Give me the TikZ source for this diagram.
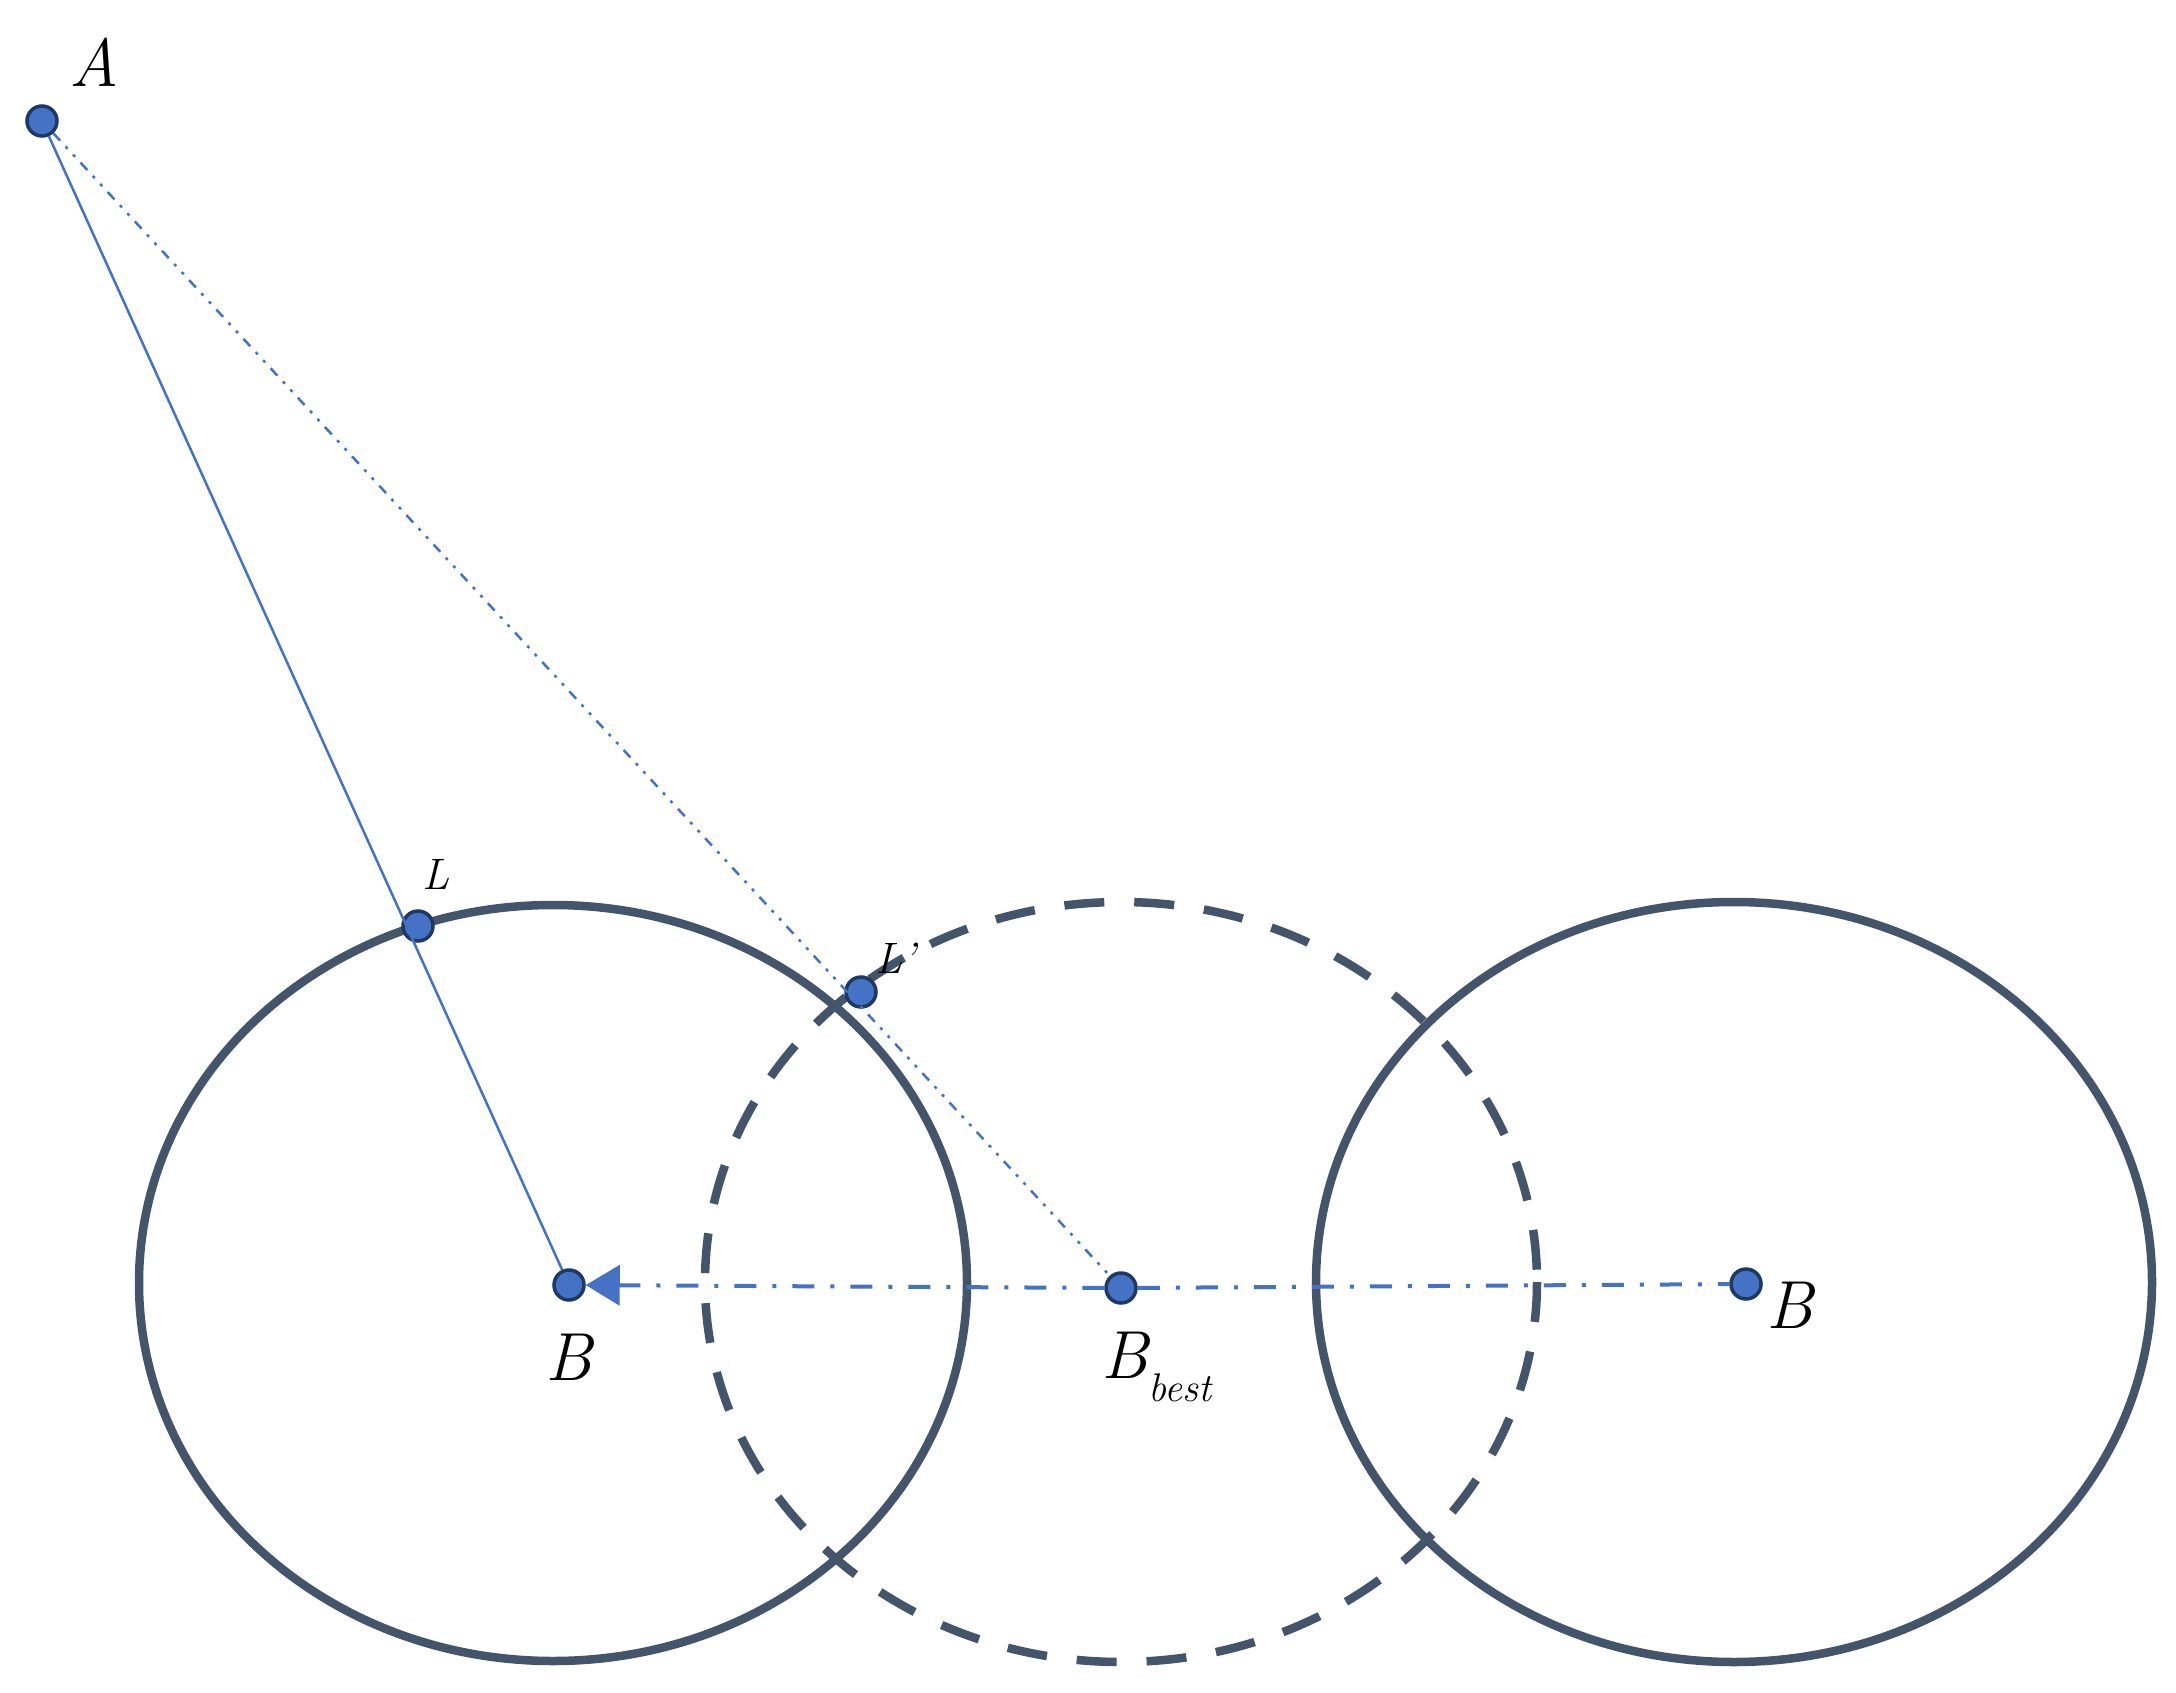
\documentclass[tikz,border=0pt]{standalone}
\usetikzlibrary{arrows.meta}
\definecolor{ring}{HTML}{44546A}
\definecolor{blu}{HTML}{4472C4}
\definecolor{navy}{HTML}{1F3864}
\begin{document}
\begin{tikzpicture}[x=1pt,y=-1pt,
  ringst/.style={draw=ring,line width=8.5pt},
  pt/.style={circle,fill=blu,draw=navy,line width=3.5pt,minimum size=30pt,inner sep=0pt},
  lab/.style={font=\fontsize{68}{76}\selectfont\itshape},
  slab/.style={font=\fontsize{44}{50}\selectfont\itshape},
  conn/.style={draw=blu,line width=2.5pt}]
\useasboundingbox (0,0) rectangle (2176,1693);
\draw[ringst] (553,1283) ellipse [x radius=414, y radius=378];
\draw[ringst,dash pattern=on 40pt off 30pt] (1121,1282) ellipse [x radius=416, y radius=380];
\draw[ringst] (1734,1282) ellipse [x radius=418, y radius=380];
\node[pt] (A) at (42,121) {};
\node[pt] (L) at (418,926) {};
\node[pt] (Lp) at (861,992) {};
\node[pt] (B1) at (569,1285) {};
\node[pt] (Bb) at (1121,1288) {};
\node[pt] (B2) at (1746,1284) {};
\node[lab] at (94,62) {A};
\node[slab] at (436,874) {L};
\node[slab] at (896,958) {L'};
\node[lab] at (569,1357) {B};
\node[lab,anchor=base west] at (1098,1378) {B\raisebox{-0.35em}{\fontsize{40}{46}\selectfont best}};
\node[lab] at (1790,1305) {B};
\draw[conn] (A) -- (B1);
\draw[conn,dash pattern=on 10pt off 8pt on 3pt off 8pt on 3pt off 8pt] (A) -- (Bb);
\draw[conn,line width=4pt,dash pattern=on 22pt off 16pt on 4pt off 16pt,-{Triangle[length=34pt,width=40pt]}] (Bb) -- (B1);
\draw[conn,line width=4pt,dash pattern=on 22pt off 16pt on 4pt off 16pt] (Bb) -- (B2);
\end{tikzpicture}
\end{document}
